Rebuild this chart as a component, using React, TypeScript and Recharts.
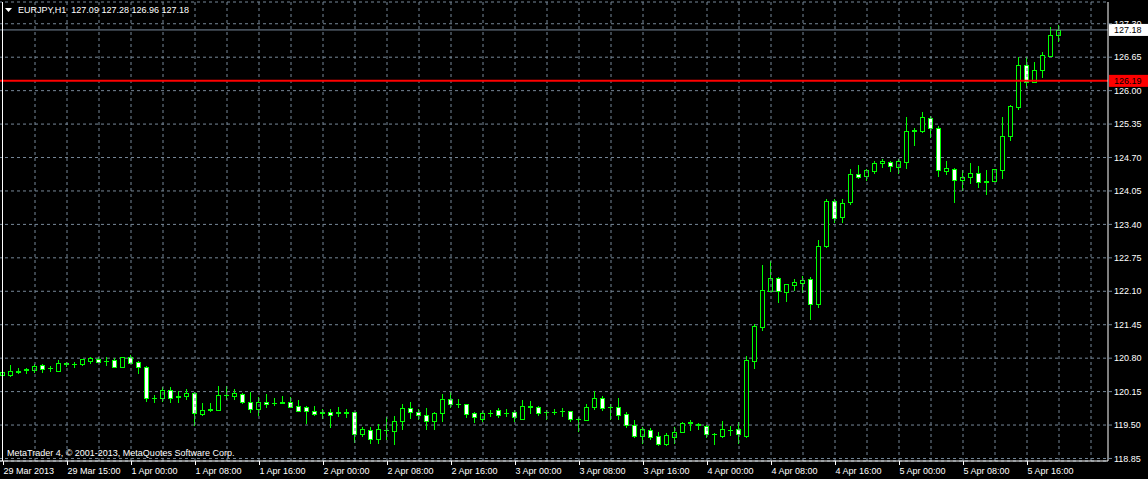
import { ComposedChart, Bar, XAxis, YAxis, CartesianGrid, ReferenceLine } from 'recharts'

// EURJPY H1, 29 Mar 2013 07:00 .. 5 Apr 2013 20:00 (one value per hourly bar)
const opens = [
  120.48, 120.48, 120.54, 120.57, 120.57, 120.67, 120.6, 120.56, 120.7, 120.69, 120.69, 120.75, 120.79, 120.74, 120.76, 120.63,
  120.83, 120.73, 120.62, 120.02, 120.03, 120.18, 120.05, 120.07, 120.12, 119.71, 119.8, 119.8, 120.08, 120.07, 120.11, 119.95,
  119.81, 119.95, 119.92, 119.93, 119.94, 119.87, 119.85, 119.77, 119.74, 119.75, 119.74, 119.75, 119.75, 119.33, 119.41, 119.22,
  119.4, 119.38, 119.57, 119.84, 119.75, 119.7, 119.58, 119.73, 120.0, 119.9, 119.91, 119.73, 119.62, 119.74, 119.79, 119.73,
  119.75, 119.62, 119.87, 119.85, 119.75, 119.75, 119.77, 119.77, 119.62, 119.6, 119.85, 120.02, 119.85, 119.86, 119.72, 119.5,
  119.29, 119.41, 119.28, 119.13, 119.27, 119.37, 119.54, 119.52, 119.49, 119.33, 119.29, 119.41, 119.42, 119.29, 120.75, 121.4,
  122.11, 122.36, 122.08, 122.23, 122.27, 122.33, 121.86, 122.98, 123.85, 123.54, 123.83, 124.38, 124.35, 124.44, 124.59, 124.61,
  124.52, 124.61, 125.22, 125.21, 125.47, 125.27, 124.44, 124.48, 124.26, 124.32, 124.39, 124.23, 124.24, 124.46, 125.12, 125.68,
  126.49, 126.17, 126.4, 126.68, 127.09
]
const highs = [
  120.57, 120.67, 120.6, 120.61, 120.68, 120.68, 120.65, 120.76, 120.73, 120.73, 120.79, 120.83, 120.82, 120.82, 120.8, 120.83,
  120.86, 120.75, 120.64, 120.08, 120.23, 120.23, 120.16, 120.2, 120.14, 119.93, 119.93, 120.25, 120.25, 120.21, 120.13, 120.14,
  120.05, 120.1, 120.02, 120.06, 120.04, 119.99, 119.87, 119.87, 119.81, 119.82, 119.85, 119.81, 119.76, 119.47, 119.47, 119.52,
  119.66, 119.68, 119.91, 119.94, 119.81, 119.83, 119.75, 120.1, 120.14, 120.01, 119.91, 119.76, 119.77, 119.79, 119.83, 119.81,
  119.79, 119.99, 119.97, 119.87, 119.79, 119.81, 119.83, 119.77, 119.65, 119.91, 120.16, 120.06, 119.91, 120.02, 119.75, 119.6,
  119.47, 119.44, 119.37, 119.34, 119.47, 119.55, 119.6, 119.53, 119.51, 119.34, 119.57, 119.48, 119.55, 120.84, 121.46, 122.61,
  122.69, 122.38, 122.25, 122.34, 122.4, 122.37, 123.1, 123.89, 123.89, 123.89, 124.48, 124.55, 124.48, 124.63, 124.67, 124.63,
  124.67, 125.48, 125.27, 125.58, 125.51, 125.31, 124.63, 124.5, 124.46, 124.59, 124.54, 124.46, 124.47, 125.49, 125.73, 126.65,
  126.65, 126.55, 126.75, 127.23, 127.28
]
const lows = [
  120.32, 120.46, 120.51, 120.51, 120.54, 120.54, 120.55, 120.55, 120.65, 120.63, 120.67, 120.71, 120.72, 120.67, 120.63, 120.62,
  120.7, 120.52, 119.97, 119.94, 119.97, 119.94, 119.94, 120.01, 119.5, 119.7, 119.77, 119.79, 120.01, 120.0, 119.92, 119.75,
  119.7, 119.86, 119.89, 119.92, 119.85, 119.77, 119.53, 119.7, 119.63, 119.47, 119.68, 119.65, 119.17, 119.29, 119.15, 119.16,
  119.22, 119.13, 119.43, 119.64, 119.61, 119.43, 119.43, 119.58, 119.86, 119.85, 119.66, 119.55, 119.58, 119.68, 119.66, 119.68,
  119.58, 119.62, 119.74, 119.7, 119.62, 119.71, 119.68, 119.58, 119.39, 119.59, 119.82, 119.79, 119.62, 119.61, 119.47, 119.26,
  119.16, 119.22, 119.11, 119.12, 119.15, 119.36, 119.4, 119.42, 119.27, 119.13, 119.27, 119.31, 119.16, 119.27, 120.6, 121.35,
  122.1, 121.9, 121.92, 122.13, 122.09, 121.56, 121.79, 122.97, 123.45, 123.45, 123.79, 124.31, 124.26, 124.39, 124.51, 124.44,
  124.4, 124.5, 124.95, 125.2, 125.1, 124.35, 124.37, 123.84, 124.07, 124.2, 124.13, 123.99, 124.24, 124.3, 125.05, 125.64,
  126.08, 126.16, 126.27, 126.67, 126.96
]
const closes = [
  120.54, 120.55, 120.56, 120.58, 120.65, 120.59, 120.61, 120.71, 120.69, 120.68, 120.78, 120.8, 120.73, 120.74, 120.63, 120.82,
  120.71, 120.62, 120.02, 120.03, 120.18, 120.03, 120.06, 120.12, 119.73, 119.79, 119.81, 120.08, 120.09, 120.12, 119.95, 119.81,
  119.95, 119.9, 119.93, 119.94, 119.86, 119.78, 119.78, 119.72, 119.75, 119.7, 119.75, 119.74, 119.32, 119.42, 119.22, 119.42,
  119.4, 119.57, 119.83, 119.75, 119.69, 119.58, 119.73, 120.0, 119.9, 119.91, 119.72, 119.65, 119.73, 119.74, 119.7, 119.74,
  119.65, 119.87, 119.86, 119.74, 119.75, 119.75, 119.78, 119.62, 119.61, 119.86, 120.02, 119.83, 119.86, 119.7, 119.51, 119.29,
  119.42, 119.27, 119.14, 119.3, 119.36, 119.53, 119.55, 119.51, 119.32, 119.32, 119.42, 119.4, 119.32, 120.76, 121.43, 122.12,
  122.36, 122.1, 122.24, 122.28, 122.32, 121.85, 122.98, 123.85, 123.52, 123.81, 124.38, 124.33, 124.46, 124.59, 124.63, 124.53,
  124.63, 125.21, 125.23, 125.48, 125.27, 124.45, 124.49, 124.26, 124.32, 124.39, 124.22, 124.24, 124.47, 125.11, 125.7, 126.49,
  126.16, 126.4, 126.69, 127.09, 127.18
]

// one label every 8 bars, starting at bar 0
const timeLabels = [
  '29 Mar 2013', '29 Mar 15:00', '1 Apr 00:00', '1 Apr 08:00', '1 Apr 16:00', '2 Apr 00:00', '2 Apr 08:00', '2 Apr 16:00',
  '3 Apr 00:00', '3 Apr 08:00', '3 Apr 16:00', '4 Apr 00:00', '4 Apr 08:00', '4 Apr 16:00', '5 Apr 00:00', '5 Apr 08:00',
  '5 Apr 16:00'
]
const priceTicks = [118.85, 119.5, 120.15, 120.8, 121.45, 122.1, 122.75, 123.4, 124.05, 124.7, 125.35, 126.0, 126.65, 127.3]

const symbol = 'EURJPY,H1'
const bidPrice = 127.18
const levelPrice = 126.19
const shiftBars = 5 // empty space on the right (chart shift)

const GRID = '#778899'
const CANDLE = '#00ff00'
const FONT = "'Liberation Sans', Arial, sans-serif"

interface CandleRow {
  i: number
  open: number | null
  high: number | null
  low: number | null
  close: number | null
}

const data: CandleRow[] = [
  ...opens.map((o, i) => ({ i, open: o, high: highs[i], low: lows[i], close: closes[i] })),
  ...Array.from({ length: shiftBars }, (_, k) => ({ i: opens.length + k, open: null, high: null, low: null, close: null }))
]

const labelTicks = timeLabels.map((_, k) => k * 8)
const gridBars = data.filter((d) => d.i > 0 && d.i % 4 === 0).map((d) => d.i)

const Candle = (props: any) => {
  const { x, y, width, height, payload } = props
  if (!payload || payload.high == null) return null
  const { open, high, low, close } = payload
  const top = Math.min(y, y + height)
  const bottom = Math.max(y, y + height)
  const span = high - low
  const py = (v: number) => (span === 0 ? top : top + ((high - v) / span) * (bottom - top))
  const cx = Math.floor(x + width / 2) + 0.5
  const yH = Math.round(py(high))
  const yL = Math.round(py(low))
  const yO = Math.round(py(open))
  const yC = Math.round(py(close))
  const bTop = Math.min(yO, yC)
  const bBot = Math.max(yO, yC)

  return (
    <g>
      <line x1={cx} x2={cx} y1={yH} y2={yL + 1} stroke={CANDLE} strokeWidth={1} />
      {bTop === bBot ? (
        <line x1={cx - 2.5} x2={cx + 2.5} y1={bTop + 0.5} y2={bTop + 0.5} stroke={CANDLE} strokeWidth={1} />
      ) : (
        <rect
          x={cx - 2}
          y={bTop + 0.5}
          width={4}
          height={bBot - bTop}
          fill={close > open ? '#000000' : '#ffffff'}
          stroke={CANDLE}
          strokeWidth={1}
        />
      )}
    </g>
  )
}

const TimeTick = (props: any) => {
  const { x, y, payload } = props
  const px = Math.floor(x) + 0.5
  return (
    <g>
      <line x1={px} x2={px} y1={y - 4} y2={y} stroke="#ffffff" />
      <text x={px} y={y + 9} fill="#ffffff" fontSize={9} fontFamily={FONT} textAnchor="start">
        {timeLabels[payload.value / 8]}
      </text>
    </g>
  )
}

const priceTag = (text: string, bg: string, fg: string) => (props: any) => {
  const vb = props.viewBox
  const left = vb.x + vb.width + 1
  return (
    <g>
      <rect x={left} y={vb.y - 6} width={40} height={12} fill={bg} />
      <text x={left + 5} y={vb.y + 3.5} fill={fg} fontSize={9} fontFamily={FONT}>
        {text}
      </text>
    </g>
  )
}

export default function App() {
  return (
    <div style={{ position: 'absolute', left: 0, top: 0, width: 1148, height: 479, background: '#000', overflow: 'hidden' }}>
      <div style={{ position: 'absolute', left: -1, top: 0 }}>
        <ComposedChart width={1149} height={479} data={data} margin={{ top: 2, right: 0, bottom: 0, left: 0 }}>
          <CartesianGrid vertical={false} stroke={GRID} strokeDasharray="3 3" />
          {gridBars.map((b) => (
            <ReferenceLine key={`v-${b}`} x={b} stroke={GRID} strokeDasharray="3 3" ifOverflow="visible" />
          ))}
          <XAxis
            dataKey="i"
            type="category"
            ticks={labelTicks}
            interval={0}
            height={18}
            padding={{ left: 0, right: 5 }}
            axisLine={{ stroke: '#ffffff' }}
            tickLine={false}
            tickSize={4}
            tickMargin={0}
            tick={<TimeTick />}
          />
          <YAxis
            orientation="right"
            type="number"
            width={40}
            domain={[118.801, 127.723]}
            allowDataOverflow
            ticks={priceTicks}
            interval={0}
            axisLine={{ stroke: '#ffffff' }}
            tickLine={{ stroke: GRID }}
            tickSize={4}
            tickMargin={2}
            tick={{ fill: '#ffffff', fontSize: 9, fontFamily: FONT }}
            tickFormatter={(v: number) => v.toFixed(2)}
          />
          <ReferenceLine y={bidPrice} stroke={GRID} strokeWidth={1} label={priceTag(bidPrice.toFixed(2), '#ffffff', '#000000')} />
          <ReferenceLine y={levelPrice} stroke="#ff0000" strokeWidth={2} label={priceTag(levelPrice.toFixed(2), '#ff0000', '#000000')} />
          <Bar
            dataKey={(d: CandleRow) => (d.high == null ? null : [d.low, d.high])}
            shape={<Candle />}
            isAnimationActive={false}
          />
        </ComposedChart>
      </div>
      <div style={{ position: 'absolute', left: 2, top: 2, width: 1, height: 459, background: '#fff' }} />
      <div
        style={{
          position: 'absolute',
          left: 5,
          top: 5,
          color: '#fff',
          fontFamily: FONT,
          fontSize: 9,
          lineHeight: '11px',
          whiteSpace: 'pre',
          display: 'flex',
          alignItems: 'center'
        }}
      >
        <svg width={7} height={5} style={{ marginRight: 6 }}>
          <polygon points="0,0 7,0 3.5,4" fill="#fff" />
        </svg>
        <span>{`${symbol}  ${opens[opens.length - 1].toFixed(2)} ${highs[highs.length - 1].toFixed(2)} ${lows[lows.length - 1].toFixed(2)} ${closes[closes.length - 1].toFixed(2)}`}</span>
      </div>
      <div
        style={{ position: 'absolute', left: 7, top: 448, color: '#fff', fontFamily: FONT, fontSize: 9, lineHeight: '11px', whiteSpace: 'pre' }}
      >
        MetaTrader 4, © 2001-2013, MetaQuotes Software Corp.
      </div>
    </div>
  )
}
